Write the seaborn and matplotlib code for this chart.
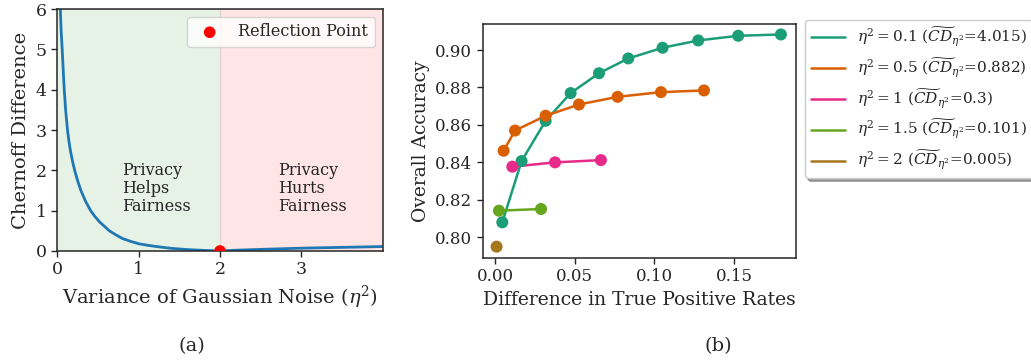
import matplotlib
matplotlib.use('Agg')
import matplotlib.pyplot as plt
import seaborn as sns
import pandas as pd

# (a) Chernoff difference vs noise variance
eta2 = [0.030, 0.037, 0.047, 0.06, 0.072, 0.085, 0.104, 0.125, 0.142, 0.16, 0.185, 0.213,
        0.25, 0.29, 0.35, 0.41, 0.46, 0.52, 0.58, 0.64, 0.72, 0.80, 0.90, 1.0,
        1.1, 1.2, 1.3, 1.4, 1.5, 1.6, 1.7, 1.8, 1.9, 2.0, 2.2, 2.5, 3.0, 3.5, 4.0]
chernoff = [7.3, 6.0, 5.45, 5.0, 4.5, 4.0, 3.45, 3.0, 2.73, 2.5, 2.24, 2.0,
            1.74, 1.5, 1.22, 1.0, 0.86, 0.72, 0.61, 0.5, 0.4, 0.31, 0.24, 0.18,
            0.145, 0.116, 0.09, 0.066, 0.05, 0.035, 0.025, 0.015, 0.007, 0.0, 0.02, 0.04, 0.07, 0.09, 0.11]
reflection_x = [2.0]
reflection_y = [0.0]

# (b) accuracy vs TPR difference for each noise level
labels = [
    r'$\eta^2 = 0.1$ ($\widetilde{CD}_{\eta^2}$=4.015)',
    r'$\eta^2 = 0.5$ ($\widetilde{CD}_{\eta^2}$=0.882)',
    r'$\eta^2 = 1$ ($\widetilde{CD}_{\eta^2}$=0.3)',
    r'$\eta^2 = 1.5$ ($\widetilde{CD}_{\eta^2}$=0.101)',
    r'$\eta^2 = 2$ ($\widetilde{CD}_{\eta^2}$=0.005)',
]
tpr_01 = [0.0046, 0.0167, 0.0318, 0.0475, 0.0653, 0.0837, 0.1052, 0.1276, 0.1527, 0.1795]
acc_01 = [0.808, 0.8407, 0.8622, 0.877, 0.8876, 0.8955, 0.9012, 0.9051, 0.9076, 0.9083]
tpr_05 = [0.0054, 0.0126, 0.0318, 0.0527, 0.0770, 0.1042, 0.1312]
acc_05 = [0.8462, 0.857, 0.8649, 0.8709, 0.875, 0.8775, 0.8784]
tpr_1 = [0.0109, 0.0377, 0.0665]
acc_1 = [0.8377, 0.840, 0.8412]
tpr_15 = [0.0025, 0.0289]
acc_15 = [0.8142, 0.8151]
tpr_2 = [0.001]
acc_2 = [0.795]

series = [(tpr_01, acc_01), (tpr_05, acc_05), (tpr_1, acc_1), (tpr_15, acc_15), (tpr_2, acc_2)]
rows = []
for lab, (xs, ys) in zip(labels, series):
    for x, y in zip(xs, ys):
        rows.append({'tpr': x, 'acc': y, 'setting': lab})
df_b = pd.DataFrame(rows)
df_a = pd.DataFrame({'eta2': eta2, 'chernoff': chernoff})

sns.set_theme(style='ticks')
plt.rcParams['font.family'] = ['DejaVu Serif']
plt.rcParams['mathtext.fontset'] = 'dejavuserif'
plt.rcParams['axes.linewidth'] = 1.1
plt.rcParams['xtick.major.size'] = 4
plt.rcParams['ytick.major.size'] = 4
plt.rcParams['xtick.major.width'] = 1
plt.rcParams['ytick.major.width'] = 1

dark2 = sns.color_palette('Dark2', 8)
palette = [dark2[0], dark2[1], dark2[3], dark2[4], dark2[6]]

fig = plt.figure(figsize=(10.31, 3.6), dpi=100)
ax1 = fig.add_axes([0.0556, 0.3028, 0.3156, 0.672])
ax2 = fig.add_axes([0.4682, 0.2842, 0.3039, 0.6492])

# ---- (a)
ax1.axvspan(0, 2, color='green', alpha=0.1, lw=0)
ax1.axvspan(2, 4, color='red', alpha=0.1, lw=0)
ax1.axvline(2, color='#d8c8c0', lw=1, alpha=0.6)
sns.lineplot(data=df_a, x='eta2', y='chernoff', ax=ax1, color='#1f77b4', lw=2)
sns.scatterplot(x=reflection_x, y=reflection_y, ax=ax1, color='red', s=70,
                edgecolor='none', zorder=5, label='Reflection Point')
ax1.text(0.8, 1.55, 'Privacy\nHelps\nFairness', fontsize=11.5, va='center', ha='left',
         linespacing=1.1)
ax1.text(2.71, 1.55, 'Privacy\nHurts\nFairness', fontsize=11.5, va='center', ha='left',
         linespacing=1.1)
ax1.set_xlim(0, 4)
ax1.set_ylim(0, 6)
ax1.set_xticks([0, 1, 2, 3])
ax1.tick_params(labelsize=12.5)
ax1.set_xlabel(r'Variance of Gaussian Noise ($\eta^2$)', fontsize=14)
ax1.set_ylabel('Chernoff Difference', fontsize=14)
ax1.legend(loc='upper right', fontsize=11.5, fancybox=True, framealpha=0.8)

# ---- (b)
sns.lineplot(data=df_b, x='tpr', y='acc', hue='setting', palette=palette, ax=ax2,
             lw=1.8)
sns.scatterplot(data=df_b, x='tpr', y='acc', hue='setting', palette=palette, ax=ax2,
                s=75, edgecolor='none', legend=False, zorder=3)
ax2.set_xlim(-0.0077, 0.189)
ax2.set_ylim(0.7891, 0.9139)
ax2.set_xticks([0.0, 0.05, 0.10, 0.15])
ax2.set_xticklabels(['0.00', '0.05', '0.10', '0.15'])
ax2.set_yticks([0.80, 0.82, 0.84, 0.86, 0.88, 0.90])
ax2.tick_params(labelsize=12)
ax2.set_xlabel('Difference in True Positive Rates', fontsize=13.5)
ax2.set_ylabel('Overall Accuracy', fontsize=13.5)
ax2.legend(loc='upper left', bbox_to_anchor=(1.029, 1.017), borderaxespad=0,
           fontsize=11, shadow=True, fancybox=True, title=None, handlelength=2.2)

fig.text(0.186, 0.04, '(a)', fontsize=14, ha='center', va='center')
fig.text(0.697, 0.04, '(b)', fontsize=14, ha='center', va='center')

fig.savefig('out.png', dpi=100)
